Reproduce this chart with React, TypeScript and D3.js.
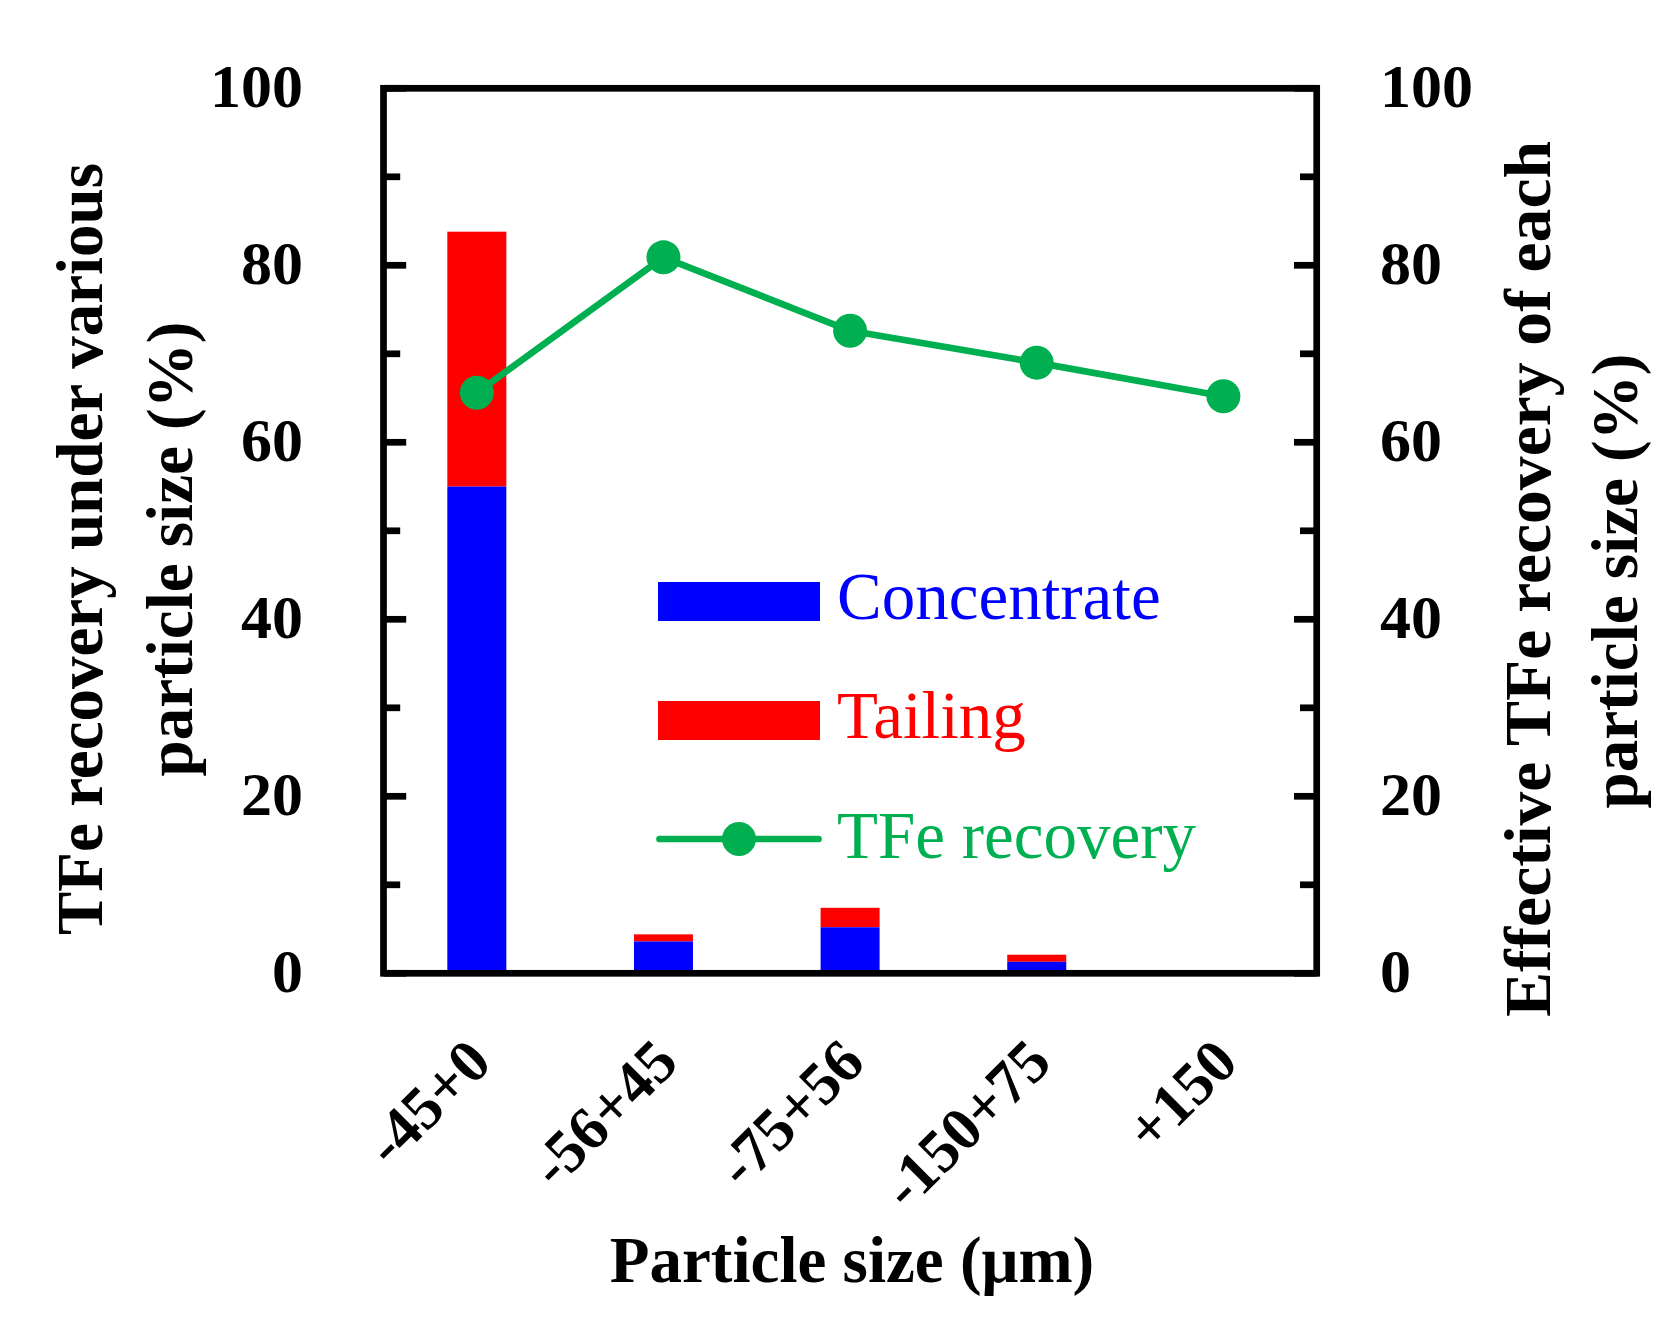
import React from "react";
import * as d3 from "d3";

const categories = ["-45+0", "-56+45", "-75+56", "-150+75", "+150"];
const concentrate = [55.0, 3.6, 5.2, 1.3, 0];
const tailing = [28.8, 0.8, 2.2, 0.8, 0];
const tfeRecovery = [65.6, 80.9, 72.6, 69.0, 65.2];
const yTicks = [0, 20, 40, 60, 80, 100];
const yMinorTicks = [10, 30, 50, 70, 90];

const W = 1680;
const H = 1340;
const left = 383.5;
const right = 1316.7;
const top = 88.3;
const bottom = 973.3;
const FONT = "'Liberation Serif', 'Times New Roman', serif";
const BLUE = "#0000FF";
const RED = "#FF0000";
const GREEN = "#00B050";

export default function App() {
  const x = d3.scalePoint<string>().domain(categories).range([left, right]).padding(0.5);
  const y = d3.scaleLinear().domain([0, 100]).range([bottom, top]);
  const barW = 59;
  const line = d3
    .line<number>()
    .x((_, i) => x(categories[i]) as number)
    .y((d) => y(d));

  return (
    <svg
      width={W}
      height={H}
      viewBox={`0 0 ${W} ${H}`}
      style={{ position: "absolute", left: 0, top: 0, background: "#fff" }}
      fontFamily={FONT}
    >
      <rect x={0} y={0} width={W} height={H} fill="#fff" />
      {/* bars */}
      {categories.map((c, i) => {
        const cx = x(c) as number;
        const c0 = y(0);
        const c1 = y(concentrate[i]);
        const t1 = y(concentrate[i] + tailing[i]);
        return (
          <g key={c}>
            {tailing[i] > 0 && (
              <rect x={cx - barW / 2} y={t1} width={barW} height={c1 - t1} fill={RED} />
            )}
            {concentrate[i] > 0 && (
              <rect x={cx - barW / 2} y={c1} width={barW} height={c0 - c1} fill={BLUE} />
            )}
          </g>
        );
      })}

      {/* ticks */}
      {yTicks.concat(yMinorTicks).map((t) => {
        const major = yTicks.includes(t);
        const len = major ? 22.7 : 16.7;
        return (
          <g key={"t" + t}>
            <line x1={left} x2={left + len} y1={y(t)} y2={y(t)} stroke="#000" strokeWidth={6.7} />
            <line x1={right} x2={right - len} y1={y(t)} y2={y(t)} stroke="#000" strokeWidth={6.7} />
          </g>
        );
      })}

      {/* frame */}
      <rect
        x={left}
        y={top}
        width={right - left}
        height={bottom - top}
        fill="none"
        stroke="#000"
        strokeWidth={6.7}
      />

      {/* tick labels */}
      {yTicks.map((t) => (
        <g key={"l" + t} fontWeight="bold" fontSize={62}>
          <text x={303} y={y(t) + 18.4} textAnchor="end">
            {t}
          </text>
          <text x={1380} y={y(t) + 18.4} textAnchor="start">
            {t}
          </text>
        </g>
      ))}

      {/* line series */}
      <path d={line(tfeRecovery) || ""} fill="none" stroke={GREEN} strokeWidth={6.7} strokeLinejoin="round" />
      {tfeRecovery.map((v, i) => (
        <circle key={"p" + i} cx={x(categories[i]) as number} cy={y(v)} r={17} fill={GREEN} />
      ))}

      {/* x tick labels */}
      {categories.map((c) => {
        const px = (x(c) as number) + 17;
        const py = 1065;
        return (
          <text
            key={"x" + c}
            x={px}
            y={py}
            textAnchor="end"
            fontWeight="bold"
            fontSize={61}
            transform={`rotate(-45, ${px}, ${py})`}
          >
            {c}
          </text>
        );
      })}

      {/* axis titles */}
      <text x={852} y={1282} textAnchor="middle" fontWeight="bold" fontSize={65}>
        Particle size (μm)
      </text>
      <g fontWeight="bold" fontSize={65} textAnchor="middle">
        <text transform={`translate(102, 549) rotate(-90)`}>TFe recovery under various</text>
        <text transform={`translate(192, 549) rotate(-90)`}>particle size (%)</text>
        <text
          transform={`translate(1550, 579) rotate(-90)`}
          fontSize={66}
          textLength={876}
          lengthAdjust="spacingAndGlyphs"
        >
          Effective TFe recovery of each
        </text>
        <text transform={`translate(1637, 581) rotate(-90)`}>particle size (%)</text>
      </g>

      {/* legend */}
      <rect x={658} y={582} width={162} height={39} fill={BLUE} />
      <rect x={658} y={701} width={162} height={39} fill={RED} />
      <line x1={659.5} x2={818.5} y1={839} y2={839} stroke={GREEN} strokeWidth={6.7} strokeLinecap="round" />
      <circle cx={739} cy={839} r={17} fill={GREEN} />
      <g fontSize={67}>
        <text x={837} y={619} fill={BLUE}>Concentrate</text>
        <text x={837} y={738} fill={RED}>Tailing</text>
        <text x={837} y={858} fill={GREEN}>TFe recovery</text>
      </g>
    </svg>
  );
}
